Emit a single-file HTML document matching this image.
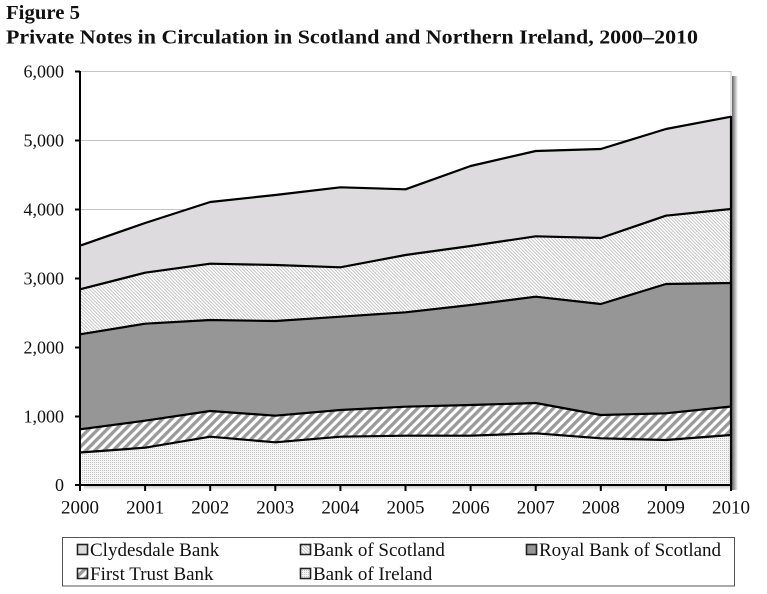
<!DOCTYPE html>
<html><head><meta charset="utf-8"><style>
html,body{margin:0;padding:0;background:#fff;}
svg{display:block;}
</style></head><body>
<svg width="767" height="594" viewBox="0 0 767 594" xmlns="http://www.w3.org/2000/svg">
<defs>
  <pattern id="dots" width="2" height="2" patternUnits="userSpaceOnUse">
    <rect width="2" height="2" fill="#f5f5f5"/>
    <rect width="1" height="1" fill="#c4c4c4"/>
  </pattern>
  <pattern id="wide" width="6.4" height="6.4" patternUnits="userSpaceOnUse" patternTransform="rotate(45)">
    <rect width="6.4" height="6.4" fill="#ffffff"/>
    <rect width="3.3" height="6.4" fill="#9a9a9a"/>
  </pattern>
  <pattern id="fine" width="2.4" height="2.4" patternUnits="userSpaceOnUse" patternTransform="rotate(-45)">
    <rect width="2.4" height="2.4" fill="#ffffff"/>
    <rect width="0.8" height="2.4" fill="#b8b8b8"/>
  </pattern>
  <linearGradient id="shR" x1="0" y1="0" x2="1" y2="0">
    <stop offset="0" stop-color="#666"/>
    <stop offset="1" stop-color="#fff"/>
  </linearGradient>
  <linearGradient id="shB" x1="0" y1="0" x2="0" y2="1">
    <stop offset="0" stop-color="#aaa"/>
    <stop offset="1" stop-color="#fff"/>
  </linearGradient>
</defs>

<!-- Titles -->
<text x="6" y="19" font-family="Liberation Serif, serif" font-weight="bold" font-size="20" fill="#111" textLength="74" lengthAdjust="spacingAndGlyphs">Figure 5</text>
<text x="6" y="43.5" font-family="Liberation Serif, serif" font-weight="bold" font-size="20" fill="#111" textLength="692" lengthAdjust="spacingAndGlyphs">Private Notes in Circulation in Scotland and Northern Ireland, 2000–2010</text>

<!-- shadow -->
<rect x="732" y="76" width="6" height="414" fill="url(#shR)"/>
<rect x="84" y="486" width="648" height="4" fill="url(#shB)" opacity="0.6"/>

<!-- gridlines / frame -->
<g stroke="#c4c4c4" stroke-width="1">
  <line x1="80" y1="71.5" x2="731" y2="71.5"/>
  <line x1="80" y1="140.5" x2="731" y2="140.5"/>
  <line x1="80" y1="209.5" x2="731" y2="209.5"/>
  <line x1="80" y1="278.5" x2="731" y2="278.5"/>
  <line x1="80" y1="347.5" x2="731" y2="347.5"/>
  <line x1="80" y1="416.5" x2="731" y2="416.5"/>
  <line x1="731" y1="71" x2="731" y2="485"/>
</g>

<!-- Areas (bottom to top) -->
<polygon fill="#dddbdd" points="80,245.7 145.1,223 210.2,202 275.3,195 340.4,187.3 405.5,189.3 470.6,166 535.7,151 600.8,149 665.9,129 731,116.7 731,209 665.9,215.7 600.8,238 535.7,236.3 470.6,246 405.5,255 340.4,267.3 275.3,265 210.2,263.7 145.1,272.7 80,289.3"/>
<polygon fill="url(#fine)" points="80,289.3 145.1,272.7 210.2,263.7 275.3,265 340.4,267.3 405.5,255 470.6,246 535.7,236.3 600.8,238 665.9,215.7 731,209 731,283 665.9,284 600.8,304 535.7,296.7 470.6,305 405.5,312.3 340.4,316.7 275.3,321 210.2,320 145.1,323.7 80,334.3"/>
<polygon fill="#969696" points="80,334.3 145.1,323.7 210.2,320 275.3,321 340.4,316.7 405.5,312.3 470.6,305 535.7,296.7 600.8,304 665.9,284 731,283 731,406.5 665.9,413.3 600.8,415 535.7,403 470.6,405 405.5,406.7 340.4,410 275.3,415.7 210.2,411 145.1,420.7 80,429.3"/>
<polygon fill="url(#wide)" points="80,429.3 145.1,420.7 210.2,411 275.3,415.7 340.4,410 405.5,406.7 470.6,405 535.7,403 600.8,415 665.9,413.3 731,406.5 731,435 665.9,440 600.8,438.3 535.7,433.3 470.6,435.7 405.5,435.7 340.4,436.7 275.3,442.3 210.2,436.7 145.1,447.7 80,452.5"/>
<polygon fill="url(#dots)" points="80,452.5 145.1,447.7 210.2,436.7 275.3,442.3 340.4,436.7 405.5,435.7 470.6,435.7 535.7,433.3 600.8,438.3 665.9,440 731,435 731,485 80,485"/>

<!-- Boundary lines -->
<g fill="none" stroke="#000" stroke-width="2.2" stroke-linejoin="round">
  <polyline points="80,245.7 145.1,223 210.2,202 275.3,195 340.4,187.3 405.5,189.3 470.6,166 535.7,151 600.8,149 665.9,129 731,116.7"/>
  <polyline points="80,289.3 145.1,272.7 210.2,263.7 275.3,265 340.4,267.3 405.5,255 470.6,246 535.7,236.3 600.8,238 665.9,215.7 731,209"/>
  <polyline points="80,334.3 145.1,323.7 210.2,320 275.3,321 340.4,316.7 405.5,312.3 470.6,305 535.7,296.7 600.8,304 665.9,284 731,283"/>
  <polyline points="80,429.3 145.1,420.7 210.2,411 275.3,415.7 340.4,410 405.5,406.7 470.6,405 535.7,403 600.8,415 665.9,413.3 731,406.5"/>
  <polyline points="80,452.5 145.1,447.7 210.2,436.7 275.3,442.3 340.4,436.7 405.5,435.7 470.6,435.7 535.7,433.3 600.8,438.3 665.9,440 731,435"/>
  <line x1="731" y1="116" x2="731" y2="485"/>
</g>

<!-- Axes -->
<g stroke="#000" stroke-width="2">
  <line x1="80" y1="71" x2="80" y2="486"/>
  <line x1="79" y1="485" x2="732" y2="485"/>
  <line x1="75" y1="71.5" x2="80" y2="71.5"/>
  <line x1="75" y1="140.5" x2="80" y2="140.5"/>
  <line x1="75" y1="209.5" x2="80" y2="209.5"/>
  <line x1="75" y1="278.5" x2="80" y2="278.5"/>
  <line x1="75" y1="347.5" x2="80" y2="347.5"/>
  <line x1="75" y1="416.5" x2="80" y2="416.5"/>
  <line x1="75" y1="485" x2="80" y2="485"/>
  <line x1="80" y1="485" x2="80" y2="491"/>
  <line x1="145.1" y1="485" x2="145.1" y2="491"/>
  <line x1="210.2" y1="485" x2="210.2" y2="491"/>
  <line x1="275.3" y1="485" x2="275.3" y2="491"/>
  <line x1="340.4" y1="485" x2="340.4" y2="491"/>
  <line x1="405.5" y1="485" x2="405.5" y2="491"/>
  <line x1="470.6" y1="485" x2="470.6" y2="491"/>
  <line x1="535.7" y1="485" x2="535.7" y2="491"/>
  <line x1="600.8" y1="485" x2="600.8" y2="491"/>
  <line x1="665.9" y1="485" x2="665.9" y2="491"/>
  <line x1="731" y1="485" x2="731" y2="491"/>
</g>

<!-- Y labels -->
<g font-family="Liberation Serif, serif" font-size="18" fill="#111" text-anchor="end">
  <text x="64" y="77.5">6,000</text>
  <text x="64" y="146.5">5,000</text>
  <text x="64" y="215.5">4,000</text>
  <text x="64" y="284.5">3,000</text>
  <text x="64" y="353.5">2,000</text>
  <text x="64" y="422.5">1,000</text>
  <text x="64" y="491">0</text>
</g>

<!-- X labels -->
<g font-family="Liberation Serif, serif" font-size="19" fill="#111" text-anchor="middle">
  <text x="80" y="513.5">2000</text>
  <text x="145.1" y="513.5">2001</text>
  <text x="210.2" y="513.5">2002</text>
  <text x="275.3" y="513.5">2003</text>
  <text x="340.4" y="513.5">2004</text>
  <text x="405.5" y="513.5">2005</text>
  <text x="470.6" y="513.5">2006</text>
  <text x="535.7" y="513.5">2007</text>
  <text x="600.8" y="513.5">2008</text>
  <text x="665.9" y="513.5">2009</text>
  <text x="731" y="513.5">2010</text>
</g>

<!-- Legend -->
<rect x="62.5" y="537.5" width="672" height="48.5" fill="#fff" stroke="#555" stroke-width="1"/>
<g stroke="#222" stroke-width="1.6">
  <rect x="77.5" y="544.5" width="10" height="10" fill="#dddbdd"/>
  <rect x="300.5" y="544.5" width="10" height="10" fill="url(#fine)"/>
  <rect x="526.5" y="544.5" width="10" height="10" fill="#969696"/>
  <rect x="77.5" y="568.5" width="10" height="10" fill="url(#wide)"/>
  <rect x="300.5" y="568.5" width="10" height="10" fill="url(#dots)"/>
</g>
<g font-family="Liberation Serif, serif" font-size="19" fill="#111">
  <text x="90" y="556">Clydesdale Bank</text>
  <text x="313" y="556">Bank of Scotland</text>
  <text x="539" y="556">Royal Bank of Scotland</text>
  <text x="90" y="580">First Trust Bank</text>
  <text x="313" y="580">Bank of Ireland</text>
</g>
</svg>
</body></html>
